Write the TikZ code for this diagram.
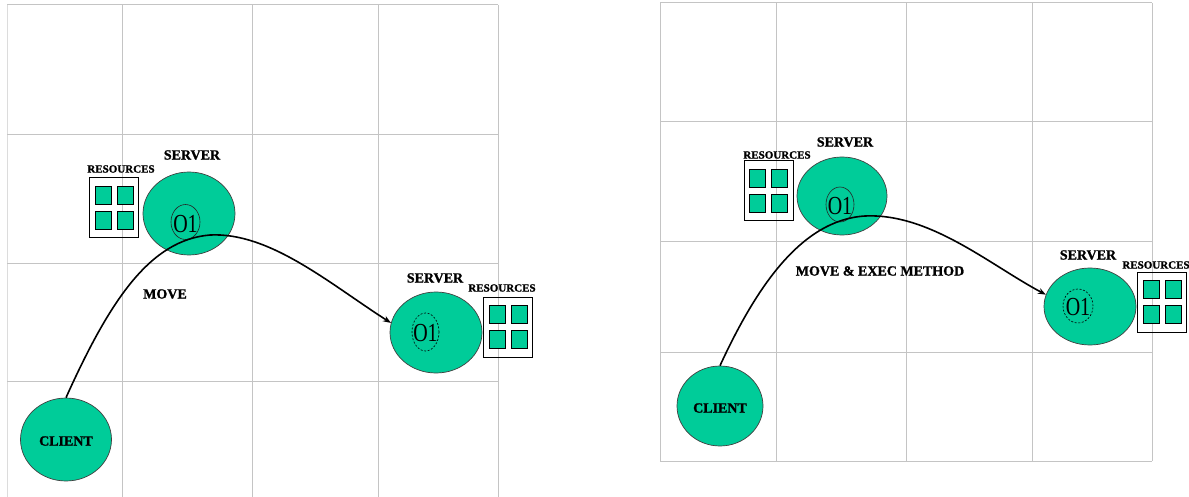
\documentclass[tikz,border=0pt]{standalone}
\usepackage{fontspec}
\setmainfont{Liberation Serif}
\newfontfamily\heavyfont{Liberation Serif Bold}[FakeBold=1.3]
\usetikzlibrary{shapes.geometric,arrows.meta}
\definecolor{srvgreen}{RGB}{0,204,153}
\definecolor{gridgray}{RGB}{196,196,196}

\tikzset{
  gridline/.style={draw=gridgray,line width=1pt},
  host/.style={ellipse,draw=black!75,line width=0.7pt,fill=srvgreen,inner sep=0pt},
  obj/.style={ellipse,draw=black!85,line width=0.6pt,inner sep=0pt},
  movedobj/.style={obj,draw=black,dash pattern=on 2pt off 1.6pt},
  objtext/.style={font=\fontsize{20}{20}\selectfont,inner sep=0pt},
  lbl/.style={font=\heavyfont\fontsize{14}{14}\selectfont,inner sep=0pt},
  reslbl/.style={font=\heavyfont\fontsize{11}{11}\selectfont,inner sep=0pt},
  resbox/.style={draw=black,line width=0.9pt,inner sep=0pt,minimum width=49pt,minimum height=60pt},
  rescell/.style={draw=black,line width=0.7pt,fill=srvgreen,inner sep=0pt,minimum width=16pt,minimum height=18pt},
  movearrow/.style={draw=black,line width=1.6pt,-{Stealth[length=8pt,width=6pt]}},
  resources/.pic={
    \node[resbox] (-box) at (0,0) {};
    \node[rescell] (-a) at (-11,-12.5) {};
    \node[rescell] (-b) at (11,-12.5) {};
    \node[rescell] (-c) at (-11,12.5) {};
    \node[rescell] (-d) at (11,12.5) {};
  }
}

\begin{document}
\begin{tikzpicture}[x=1pt,y=-1pt]
\useasboundingbox (0,0) rectangle (1189,497);

% ---- left grid ----
\foreach \gx in {122,252,378,498} \draw[gridline] (\gx,5) -- (\gx,497);
\draw[gridline,draw=gridgray!60] (7,5) -- (7,497);
\foreach \gy in {5,135,264,381} \draw[gridline] (7,\gy) -- (498,\gy);

% ---- right grid ----
\foreach \gx in {660,776,906,1032,1152} \draw[gridline] (\gx,3) -- (\gx,461);
\foreach \gy in {3,122,242,352,461} \draw[gridline] (660,\gy) -- (1152,\gy);

% ---- left: migration of O1 ----
\node[host,minimum width=92pt,minimum height=83pt] (srvA) at (189,213.5) {};
\node[obj,minimum width=29pt,minimum height=35pt] (objA) at (185.5,222) {};
\node[objtext] (objAt) at (185.5,224) {\scalebox{1}[1.3]{O1}};
\node[lbl] (srvAl) at (192,155) {SERVER};
\node[reslbl] (resAl) at (121,169) {RESOURCES};
\pic (resA) at (114,207.5) {resources};

\node[host,minimum width=92pt,minimum height=81pt] (srvB) at (436,332.5) {};
\node[movedobj,minimum width=27pt,minimum height=38pt] (objB) at (425.5,332) {};
\node[objtext] (objBt) at (425.5,333) {\scalebox{1}[1.3]{O1}};
\node[lbl] (srvBl) at (435,278) {SERVER};
\node[reslbl] (resBl) at (502,288) {RESOURCES};
\pic (resB) at (508,327) {resources};

\node[host,minimum width=91pt,minimum height=83pt] (cliA) at (66,439.5) {};
\node[lbl] (cliAl) at (66,441) {CLIENT};

\coordinate (topA) at (210,235);
\draw[movearrow] (cliA.north) .. controls (110,300) and (150,240) .. (topA)
  .. controls (270,232) and (330,284) .. (srvB.168);
\node[lbl] (moveA) at (165,294) {MOVE};

% ---- right: migration of O1 with method execution ----
\node[host,minimum width=90pt,minimum height=78pt] (srvC) at (842,196) {};
\node[obj,minimum width=28pt,minimum height=35pt] (objC) at (840,204.5) {};
\node[objtext] (objCt) at (840,206) {\scalebox{1}[1.3]{O1}};
\node[lbl] (srvCl) at (845,142) {SERVER};
\node[reslbl] (resCl) at (777,155) {RESOURCES};
\pic (resC) at (768.5,190.5) {resources};

\node[host,minimum width=92pt,minimum height=77pt] (srvD) at (1090,306.5) {};
\node[movedobj,minimum width=30pt,minimum height=34pt] (objD) at (1078,306) {};
\node[objtext] (objDt) at (1078,307) {\scalebox{1}[1.3]{O1}};
\node[lbl] (srvDl) at (1088,255) {SERVER};
\node[reslbl] (resDl) at (1156,265) {RESOURCES};
\pic (resD) at (1162,302) {resources};

\node[host,minimum width=86pt,minimum height=80pt] (cliB) at (720,406) {};
\node[lbl] (cliBl) at (720,408) {CLIENT};

\coordinate (topB) at (865,216);
\draw[movearrow] (cliB.north) .. controls (755,290) and (800,220) .. (topB)
  .. controls (930,213) and (990,265) .. (srvD.165);
\node[lbl] (moveB) at (880,271) {MOVE \& EXEC METHOD};
\end{tikzpicture}
\end{document}
